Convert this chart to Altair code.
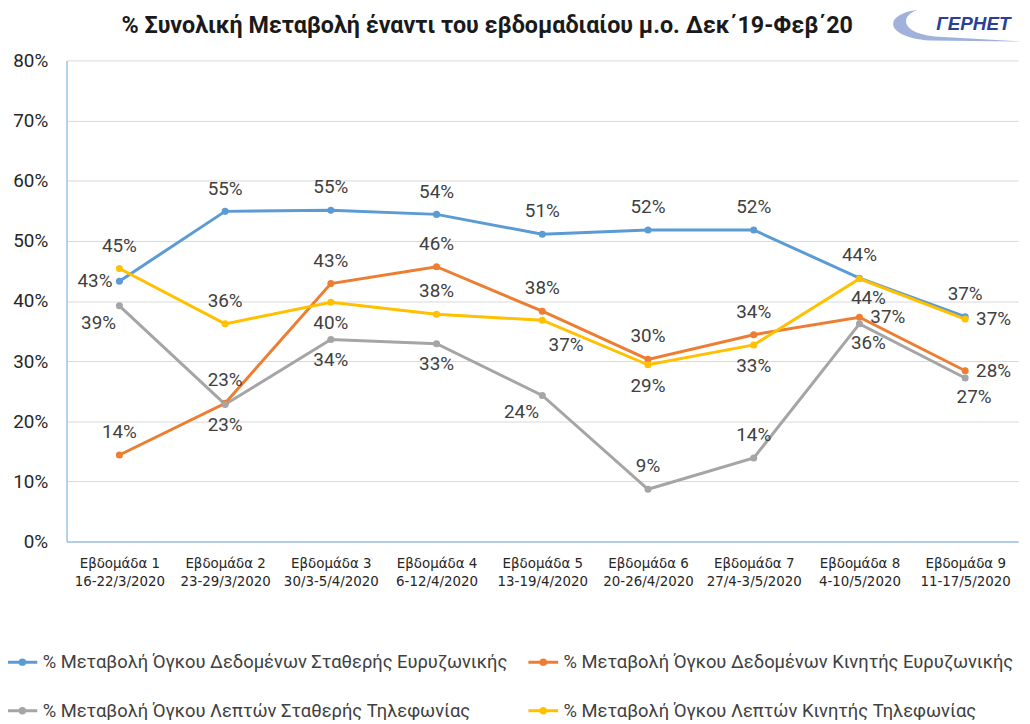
import altair as alt
import pandas as pd

# ---- data ----
weeks = [
    "Εβδομάδα 1|16-22/3/2020",
    "Εβδομάδα 2|23-29/3/2020",
    "Εβδομάδα 3|30/3-5/4/2020",
    "Εβδομάδα 4|6-12/4/2020",
    "Εβδομάδα 5|13-19/4/2020",
    "Εβδομάδα 6|20-26/4/2020",
    "Εβδομάδα 7|27/4-3/5/2020",
    "Εβδομάδα 8|4-10/5/2020",
    "Εβδομάδα 9|11-17/5/2020",
]
series_names = [
    "% Μεταβολή Όγκου Δεδομένων Σταθερής Ευρυζωνικής",
    "% Μεταβολή Όγκου Δεδομένων Κινητής Ευρυζωνικής",
    "% Μεταβολή Όγκου Λεπτών Σταθερής Τηλεφωνίας",
    "% Μεταβολή Όγκου Λεπτών Κινητής Τηλεφωνίας",
]
fixed_broadband = [43.3, 54.9, 55.1, 54.4, 51.1, 51.8, 51.8, 43.8, 37.4]
mobile_broadband = [14.4, 23.0, 42.9, 45.7, 38.3, 30.3, 34.4, 37.3, 28.4]
fixed_voice = [39.2, 22.8, 33.6, 32.9, 24.3, 8.7, 13.9, 36.2, 27.2]
mobile_voice = [45.4, 36.2, 39.8, 37.8, 36.8, 29.4, 32.7, 43.7, 37.0]

# label placement code per point (t=above, b=below, l=left, r=right ...)
pos_fixed_broadband = ["l", "t", "t", "t", "t", "t", "t", "t", "t"]
pos_mobile_broadband = ["t", "t", "t", "t", "t", "t", "t", "r", "r"]
pos_fixed_voice = ["bl", "b", "b", "b", "bl", "t", "t", "bx", "bx"]
pos_mobile_voice = ["t", "t", "b", "t", "br", "b", "b", "bx", "r"]

colors = ["#5B9BD5", "#ED7D31", "#A5A5A5", "#FFC000"]
y_ticks = [0, 10, 20, 30, 40, 50, 60, 70, 80]

title_text = "% Συνολική Μεταβολή έναντι του εβδομαδιαίου μ.ο. Δεκ΄19-Φεβ΄20"
logo_text = "ΓΕΡΗΕΤ"

# ---- build table ----
rows = []
for name, vals, poss in zip(
    series_names,
    [fixed_broadband, mobile_broadband, fixed_voice, mobile_voice],
    [pos_fixed_broadband, pos_mobile_broadband, pos_fixed_voice, pos_mobile_voice],
):
    for w, v, p in zip(weeks, vals, poss):
        rows.append({"week": w, "series": name, "value": v, "pos": p})
df = pd.DataFrame(rows)

LABEL_FONT = "Roboto"
TXT = "#404040"

x_enc = alt.X(
    "week:N",
    sort=weeks,
    scale=alt.Scale(type="point", padding=0.5),
    axis=alt.Axis(
        title=None,
        labelAngle=0,
        labelExpr="split(datum.label, '|')",
        labelFont="DejaVu Sans",
        labelFontSize=13.5,
        labelColor="#262626",
        labelLineHeight=18,
        labelPadding=15,
        ticks=False,
        grid=False,
        domainColor="#9DC3E6",
        domainWidth=1.5,
    ),
)
y_enc = alt.Y(
    "value:Q",
    scale=alt.Scale(domain=[0, 80], nice=False),
    axis=alt.Axis(
        title=None,
        values=y_ticks,
        labelExpr="datum.value + '%'",
        labelFont=LABEL_FONT,
        labelFontSize=19,
        labelColor="#262626",
        labelPadding=19,
        ticks=False,
        grid=True,
        gridColor="#D9D9D9",
        gridWidth=1,
        domainColor="#9DC3E6",
        domainWidth=1.5,
    ),
)
color_enc = alt.Color(
    "series:N",
    sort=series_names,
    scale=alt.Scale(domain=series_names, range=colors),
    legend=alt.Legend(
        title=None,
        orient="none",
        legendX=-61,
        legendY=590,
        direction="horizontal",
        columns=2,
        columnPadding=14,
        rowPadding=23,
        padding=0,
        labelFont=LABEL_FONT,
        labelFontSize=18.5,
        labelColor=TXT,
        labelLimit=700,
        labelOffset=4,
        symbolType="M-1,0H1M0.15,0A0.15,0.15 0 1,1 -0.15,0A0.15,0.15 0 1,1 0.15,0Z",
        symbolSize=900,
        symbolStrokeWidth=3,
    ),
)

base = alt.Chart(df).encode(x=x_enc, y=y_enc)

lines = base.mark_line(strokeWidth=3).encode(color=color_enc)
points = base.mark_point(filled=True, size=50, opacity=1).encode(color=color_enc)

offsets = {
    "t": dict(dy=-23),
    "b": dict(dy=21),
    "l": dict(dx=-7, align="right"),
    "r": dict(dx=11, align="left"),
    "bl": dict(dx=-21, dy=17),
    "br": dict(dx=24, dy=25),
    "bx": dict(dx=9, dy=19),
}
text_base = base.transform_calculate(
    label="format(datum.value, '.0f') + '%'"
)
text_layers = [
    text_base.transform_filter(alt.datum.pos == code)
    .mark_text(font=LABEL_FONT, fontSize=19, color=TXT, baseline="middle", **kw)
    .encode(text="label:N")
    for code, kw in offsets.items()
]

one = pd.DataFrame({"k": [0]})

# title (as a text mark so it is not pushed off by the logo)
title = alt.Chart(pd.DataFrame({"t": [title_text]})).mark_text(
    font=LABEL_FONT,
    fontSize=23.5,
    fontWeight="bold",
    color="#1a1a1a",
    align="center",
    baseline="middle",
).encode(x=alt.value(424), y=alt.value(-35), text="t:N")

# logo (decoration)
swoosh = alt.Chart(one).mark_point(
    shape="M-44,-16C-78,-12-80,11-32,15L62,16L-27,11C-62,7-62,-10-44,-16Z",
    filled=True,
    color="#8FA3D6",
    opacity=0.85,
    size=4,
).encode(x=alt.value(902), y=alt.value(-35))
logo = alt.Chart(pd.DataFrame({"t": [logo_text]})).mark_text(
    font="Liberation Sans",
    fontSize=19,
    fontWeight="bold",
    fontStyle="italic",
    color="#2B3F99",
    align="center",
    baseline="middle",
).encode(x=alt.value(914), y=alt.value(-37), text="t:N")

chart = (
    alt.layer(lines, points, *text_layers, swoosh, logo, title)
    .properties(
        width=959,
        height=485,
        autosize=alt.AutoSizeParams(type="none"),
        padding={"left": 59, "top": 50, "right": 4, "bottom": 177},
    )
    .configure_view(stroke=None)
)

chart.save("out.html", embed_options={"renderer": "svg", "actions": False})
